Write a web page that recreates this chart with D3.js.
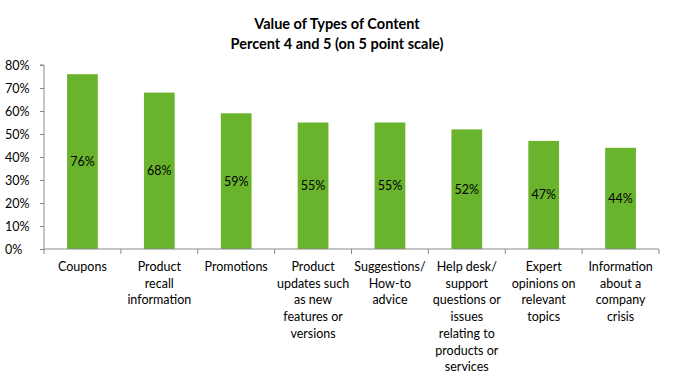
<!DOCTYPE html>
<html><head><meta charset="utf-8">
<script src="https://cdn.jsdelivr.net/npm/d3@7"></script>
<style>body{margin:0;background:#fff;}svg{display:block;}</style>
</head><body>
<svg id="c" width="673" height="382"></svg>
<script>
const categories = [
  ["Coupons"],
  ["Product","recall","information"],
  ["Promotions"],
  ["Product","updates such","as new","features or","versions"],
  ["Suggestions/","How-to","advice"],
  ["Help desk/","support","questions or","issues","relating to","products or","services"],
  ["Expert","opinions on","relevant","topics"],
  ["Information","about a","company","crisis"]
];
const values = [76, 68, 59, 55, 55, 52, 47, 44];
const yTicks = [0,10,20,30,40,50,60,70,80];
const titleLines = ["Value of Types of Content","Percent 4 and 5 (on 5 point scale)"];

const svg = d3.select("#c");
const font = "Lato, 'Open Sans', sans-serif";
const m = {left:44, right:14, top:65, bottom:133};
const W = 673, H = 382;
const x = d3.scaleBand().domain(d3.range(categories.length)).range([m.left, W - m.right]).paddingInner(0.6).paddingOuter(0.3);
const y = d3.scaleLinear().domain([0,80]).range([H - m.bottom, m.top]);

svg.selectAll("text.title").data(titleLines).join("text")
  .attr("x", 337).attr("y",(d,i)=>29 + i*20)
  .attr("text-anchor","middle").attr("font-family",font).attr("font-weight","bold")
  .attr("font-size",14.5).attr("fill","#000").text(d=>d);

// bars
svg.selectAll("rect.bar").data(values).join("rect")
  .attr("x",(d,i)=>x(i)).attr("width",x.bandwidth())
  .attr("y",d=>y(d)).attr("height",d=>y(0)-y(d)).attr("fill","#6AB42D");

svg.selectAll("text.val").data(values).join("text")
  .attr("x",(d,i)=>x(i)+x.bandwidth()/2).attr("y",d=>(y(d)+y(0))/2)
  .attr("dy","0.35em").attr("text-anchor","middle").attr("font-family",font)
  .attr("font-size",12.5).attr("fill","#000").text(d=>d+"%");

// y axis
const ya = svg.append("g").attr("transform",`translate(${m.left},0)`)
  .call(d3.axisLeft(y).tickValues(yTicks).tickSize(4).tickFormat(d=>d+"%"));
ya.select(".domain").attr("stroke","#888").attr("d",`M-4,${y(80)}H0V${y(0)}`);
ya.selectAll(".tick line").attr("stroke","#888");
ya.selectAll(".tick text").attr("font-family",font).attr("font-size",12.5).attr("fill","#000")
  .attr("text-anchor","start").attr("x",-39);

// x axis
const step = x.step();
const bounds = d3.range(categories.length+1).map(i => m.left + i*(W-m.right-m.left)/categories.length);
const xg = svg.append("g");
xg.append("line").attr("x1",m.left).attr("x2",W-m.right).attr("y1",y(0)).attr("y2",y(0)).attr("stroke","#888");
xg.selectAll("line.t").data(bounds).join("line").attr("class","t")
  .attr("x1",d=>d).attr("x2",d=>d).attr("y1",y(0)).attr("y2",y(0)+5).attr("stroke","#888");
const lab = xg.selectAll("text.cat").data(categories).join("text")
  .attr("text-anchor","middle").attr("font-family",font).attr("font-size",12.5).attr("fill","#000");
lab.each(function(lines,i){
  const t = d3.select(this);
  const cx = (bounds[i]+bounds[i+1])/2;
  lines.forEach((l,j)=>{
    t.append("tspan").attr("x",cx).attr("y",271 + j*16.7).text(l);
  });
});
</script>
</body></html>
